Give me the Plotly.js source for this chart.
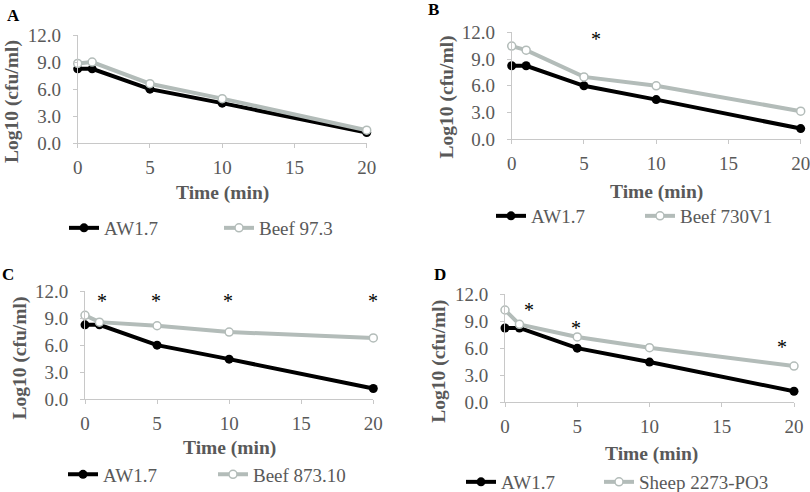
<!DOCTYPE html>
<html>
<head>
<meta charset="utf-8">
<script src="https://cdn.plot.ly/plotly-3.0.1.min.js"></script>
<style>html,body{margin:0;padding:0;background:#fff;overflow:hidden}#chart{width:810px;height:492px}</style>
</head>
<body>
<div id="chart"></div>
<script>
// ---- data ----
const time = [0, 1, 5, 10, 20];
const aw17 = [8.25, 8.25, 6.0, 4.45, 1.2];
const beef973 = [8.85, 9.0, 6.6, 4.95, 1.45];
const beef730V1 = [10.45, 10.0, 7.0, 6.0, 3.15];
const beef730V1Err = [0, 0, 0, 0.25, 0];
const beef87310 = [9.3, 8.55, 8.15, 7.45, 6.8];
const sheep2273 = [10.25, 8.65, 7.25, 6.05, 4.0];
const seriesNames = ["AW1.7", "Beef 97.3", "Beef 730V1", "Beef 873.10", "Sheep 2273-PO3"];
const panelLetters = ["A", "B", "C", "D"];
const starsB = {x: [5.8], y: [11.3]};
const starsC = {x: [1.2, 4.9, 9.9, 20], y: [10.9, 10.9, 10.9, 10.9]};
const starsD = {x: [1.65, 4.9, 19.2], y: [10.3, 8.3, 6.1]};
const yTicks = [0, 3, 6, 9, 12];
const yTickText = ["0.0", "3.0", "6.0", "9.0", "12.0"];
const xTicks = [0, 5, 10, 15, 20];

// ---- styles ----
const BLACK = "#000000";
const GRAY = "#b3bcb9";
const TXT = "#595959";
const AXC = "#c8c8c8";
const FONT = "Liberation Serif, Times New Roman, Times, DejaVu Serif, serif";

const W = 810, H = 492;
const px = v => v / W, py = v => 1 - v / H;

// one legend per entry so each entry sits where the reference puts it
const panels = [
  {ax: "", other: beef973, name: seriesNames[1], legA: "legend", legB: "legend2", legX: [64, 219], legY: 228},
  {ax: "2", other: beef730V1, name: seriesNames[2], legA: "legend3", legB: "legend4", legX: [491, 640], legY: 216, err: beef730V1Err},
  {ax: "3", other: beef87310, name: seriesNames[3], legA: "legend5", legB: "legend6", legX: [63, 213], legY: 474.5},
  {ax: "4", other: sheep2273, name: seriesNames[4], legA: "legend7", legB: "legend8", legX: [461, 599], legY: 482}
];

function leg(x, y) {
  return {orientation: "h", x: px(x), y: py(y), xanchor: "left", yanchor: "middle",
    font: {family: FONT, size: 19, color: TXT}, bgcolor: "rgba(0,0,0,0)", borderwidth: 0};
}

const traces = [];
const legends = {};
panels.forEach(p => {
  const xa = "x" + p.ax, ya = "y" + p.ax;
  traces.push({
    x: time, y: aw17, name: seriesNames[0], xaxis: xa, yaxis: ya, legend: p.legA,
    mode: "lines+markers", type: "scatter", cliponaxis: false,
    line: {color: BLACK, width: 4}, marker: {color: BLACK, size: 9}
  });
  const t = {
    x: time, y: p.other, name: p.name, xaxis: xa, yaxis: ya, legend: p.legB,
    mode: "lines+markers", type: "scatter", cliponaxis: false,
    line: {color: GRAY, width: 4},
    marker: {color: "#ffffff", size: 8, line: {color: GRAY, width: 1.5}}
  };
  if (p.err) t.error_y = {type: "data", array: p.err, visible: true, color: GRAY, thickness: 1.5, width: 3};
  traces.push(t);
  legends[p.legA] = leg(p.legX[0], p.legY);
  legends[p.legB] = leg(p.legX[1], p.legY);
});

function xax(domain, anchor) {
  return {domain: domain, anchor: anchor, range: [0, 20], tickvals: xTicks, ticks: "outside",
    ticklen: 4, tickcolor: AXC, showline: true, linecolor: AXC, linewidth: 1, showgrid: false,
    zeroline: false, tickfont: {family: FONT, size: 19, color: TXT}, ticklabelstandoff: 3,
    ticklabeloverflow: "allow", automargin: false, fixedrange: true};
}
function yax(domain, anchor) {
  return {domain: domain, anchor: anchor, range: [0, 12], tickvals: yTicks, ticktext: yTickText,
    ticks: "outside", ticklen: 4, tickcolor: AXC, showline: true, linecolor: AXC, linewidth: 1,
    showgrid: false, zeroline: false, tickfont: {family: FONT, size: 19, color: TXT},
    ticklabelstandoff: 8, ticklabeloverflow: "allow", automargin: false, fixedrange: true};
}

const annotations = [];
function ann(x, y, text, opts) {
  annotations.push(Object.assign({x: px(x), y: py(y), xref: "paper", yref: "paper", text: text,
    showarrow: false, xanchor: "center", yanchor: "middle"}, opts));
}
// panel letters
const letterPos = [[14, 16], [433, 9], [8, 274], [440, 274]];
panelLetters.forEach((l, i) => ann(letterPos[i][0], letterPos[i][1], "<b>" + l + "</b>",
  {font: {family: FONT, size: 17, color: BLACK}}));
// axis titles
const xtPos = [[222.5, 193], [656.7, 191.7], [229, 447.7], [651.3, 454.3]];
const ytPos = [[12, 102], [446.7, 96.7], [19, 358.5], [439, 361.7]];
for (let i = 0; i < 4; i++) {
  ann(xtPos[i][0], xtPos[i][1], "<b>Time (min)</b>", {font: {family: FONT, size: 19.5, color: TXT}});
  ann(ytPos[i][0], ytPos[i][1], "<b>Log10 (cfu/ml)</b>", {textangle: -90, font: {family: FONT, size: 19.5, color: TXT}});
}
// significance stars
[[starsB, "2"], [starsC, "3"], [starsD, "4"]].forEach(([s, a]) => {
  s.x.forEach((xv, i) => annotations.push({x: xv, y: s.y[i], xref: "x" + a, yref: "y" + a, text: "*",
    showarrow: false, font: {family: FONT, size: 20, color: BLACK}, xanchor: "center", yanchor: "middle"}));
});

const layout = Object.assign({
  width: W, height: H, autosize: false,
  margin: {l: 0, r: 0, t: 0, b: 0, pad: 0, autoexpand: false},
  paper_bgcolor: "#ffffff", plot_bgcolor: "#ffffff", showlegend: true,
  xaxis: xax([px(77.7), px(366.7)], "y"), yaxis: yax([py(143.3), py(35)], "x"),
  xaxis2: xax([px(511.7), px(800.7)], "y2"), yaxis2: yax([py(139.3), py(32.3)], "x2"),
  xaxis3: xax([px(85), px(373.3)], "y3"), yaxis3: yax([py(399.3), py(291)], "x3"),
  xaxis4: xax([px(505), px(794)], "y4"), yaxis4: yax([py(402), py(294.3)], "x4"),
  annotations: annotations
}, legends);
Plotly.newPlot("chart", traces, layout, {displayModeBar: false, staticPlot: true});
</script>
</body>
</html>
